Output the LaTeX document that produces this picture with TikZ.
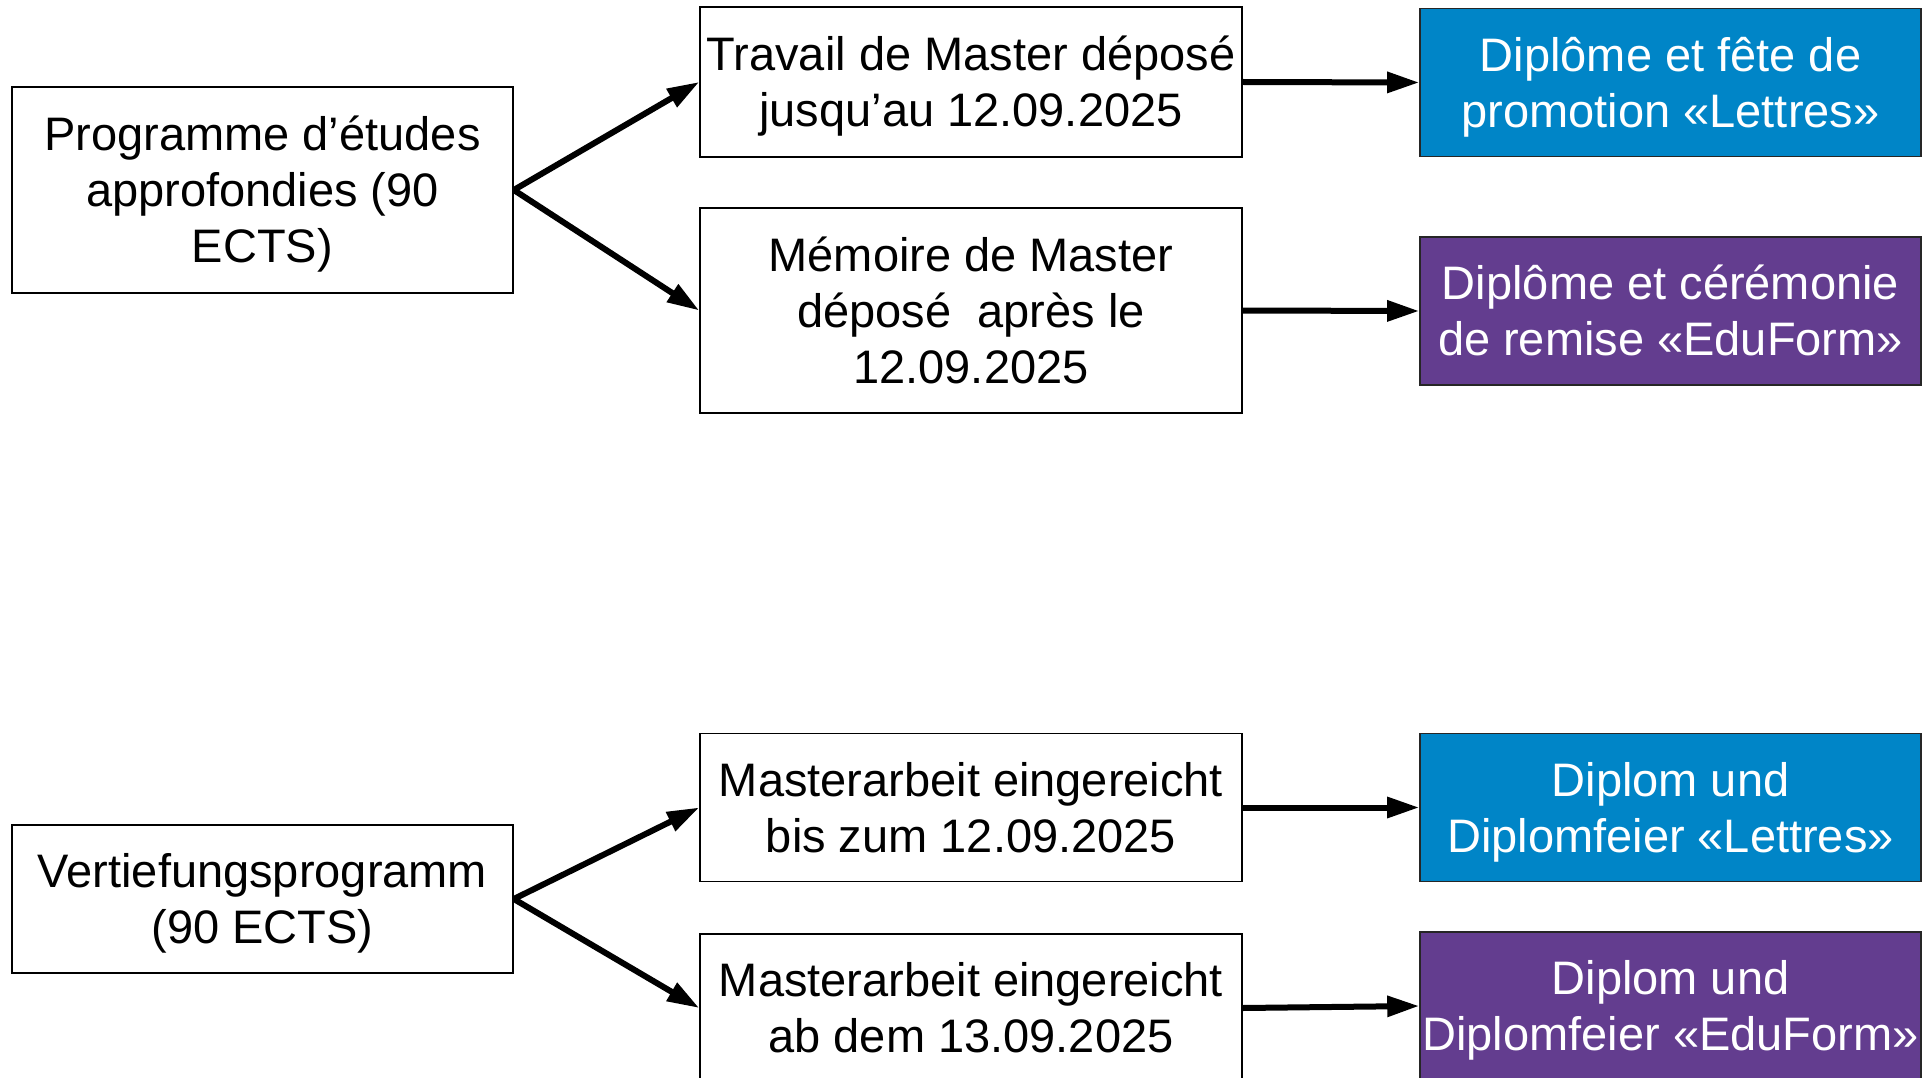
\documentclass[tikz,border=0pt]{standalone}
\usepackage{fontspec}
\setmainfont{Liberation Sans}
\usetikzlibrary{arrows.meta}
\definecolor{lettresblue}{RGB}{0,133,199}
\definecolor{eduviolet}{RGB}{99,61,143}
\tikzset{
  box/.style={draw=black, line width=1.6pt, fill=white, inner sep=0pt},
  lbl/.style={align=center, inner sep=0pt, yshift=-8pt,
    font=\fontsize{47pt}{56pt}\selectfont, text=black,
    execute at begin node=\strut, execute at end node=\strut},
  txt/.style={label={[lbl]center:{#1}}},
  wtxt/.style={label={[lbl, text=white]center:{#1}}},
  wbox/.style={box, minimum width=501pt},
  mbox/.style={box, minimum width=542pt},
  bluebox/.style={box, minimum width=501pt, fill=lettresblue, draw=black!85},
  violetbox/.style={box, minimum width=501pt, fill=eduviolet, draw=black!85},
  conn/.style={line width=6pt, -{Triangle[length=32pt,width=20pt]}}
}
\begin{document}
\begin{tikzpicture}[x=1pt,y=-1pt]
\useasboundingbox (0,0) rectangle (1923,1078);
\clip (0,0) rectangle (1923,1078);
% top group
\node[wbox, minimum height=206pt, txt={Programme d’études\\approfondies (90\\ECTS)}] (a1) at (262.5,190) {};
\node[mbox, minimum height=150pt, txt={Travail de Master déposé\\jusqu’au 12.09.2025}] (b1) at (971,82) {};
\node[mbox, minimum height=205pt, txt={Mémoire de Master\\déposé\ \ après le\\12.09.2025}] (b2) at (971,310.5) {};
\node[bluebox, minimum height=148pt, wtxt={Diplôme et fête de\\promotion «Lettres»}] (c1) at (1670.5,82.5) {};
\node[violetbox, minimum height=148pt, wtxt={Diplôme et cérémonie\\de remise «EduForm»}] (c2) at (1670.5,311) {};
% bottom group
\node[wbox, minimum height=148pt, txt={Vertiefungsprogramm\\(90 ECTS)}] (a2) at (262.5,899) {};
\node[mbox, minimum height=148pt, txt={Masterarbeit eingereicht\\bis zum 12.09.2025}] (b3) at (971,807.5) {};
\node[mbox, minimum height=148pt, txt={Masterarbeit eingereicht\\ab dem 13.09.2025}] (b4) at (971,1008) {};
\node[bluebox, minimum height=148pt, wtxt={Diplom und\\Diplomfeier «Lettres»}] (c3) at (1670.5,807.5) {};
\node[violetbox, minimum height=148pt, wtxt={Diplom und\\Diplomfeier «EduForm»}] (c4) at (1670.5,1006) {};
% connectors
\draw[conn] (a1.east) -- (b1.west);
\draw[conn] (a1.east) -- (b2.west);
\draw[conn] (b1.east) -- (c1.west);
\draw[conn] (b2.east) -- (c2.west);
\draw[conn] (a2.east) -- (b3.west);
\draw[conn] (a2.east) -- (b4.west);
\draw[conn] (b3.east) -- (c3.west);
\draw[conn] (b4.east) -- (c4.west);
\end{tikzpicture}
\end{document}
